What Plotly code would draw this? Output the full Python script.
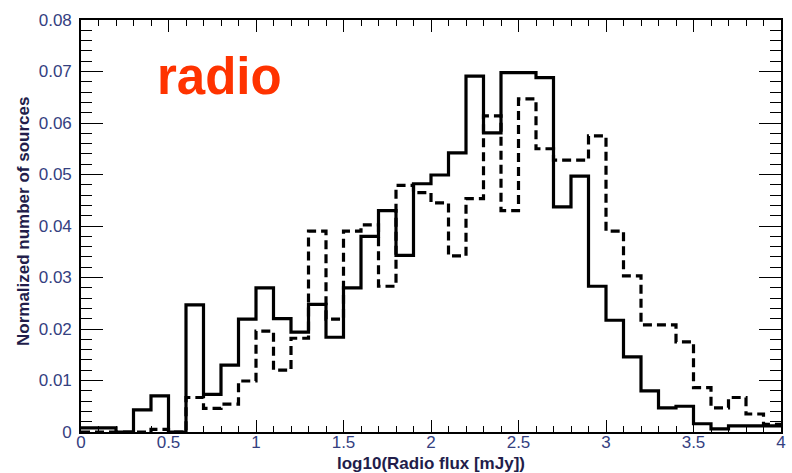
import numpy as np
import plotly.graph_objects as go

# Histogram bins: 40 bins of width 0.1 in log10(flux / mJy), from 0 to 4
bin_edges = np.round(np.arange(0.0, 4.0001, 0.1), 1)

# Normalized counts per bin (solid histogram)
solid_counts = [
    0.0008, 0.0008, 0.0000, 0.0043, 0.0070, 0.0000, 0.0247, 0.0073, 0.0130, 0.0219,
    0.0280, 0.0220, 0.0194, 0.0248, 0.0184, 0.0280, 0.0380, 0.0430, 0.0343, 0.0482,
    0.0499, 0.0542, 0.0691, 0.0581, 0.0698, 0.0698, 0.0688, 0.0437, 0.0497, 0.0283,
    0.0217, 0.0146, 0.0080, 0.0047, 0.0050, 0.0016, 0.0006, 0.0012, 0.0012, 0.0012,
]

# Normalized counts per bin (dashed histogram)
dashed_counts = [
    0.0000, 0.0000, 0.0000, 0.0000, 0.0005, 0.0000, 0.0067, 0.0046, 0.0054, 0.0099,
    0.0196, 0.0120, 0.0182, 0.0390, 0.0219, 0.0390, 0.0402, 0.0283, 0.0479, 0.0465,
    0.0445, 0.0342, 0.0453, 0.0614, 0.0430, 0.0647, 0.0550, 0.0528, 0.0528, 0.0575,
    0.0390, 0.0303, 0.0208, 0.0208, 0.0175, 0.0086, 0.0047, 0.0067, 0.0035, 0.0015,
]

x_ticks = [0, 0.5, 1, 1.5, 2, 2.5, 3, 3.5, 4]
y_ticks = [0, 0.01, 0.02, 0.03, 0.04, 0.05, 0.06, 0.07, 0.08]

LABEL_FONT = "Liberation Sans, Arial, sans-serif"
TICK_COLOR = "#34407f"
TITLE_COLOR = "#221d4a"


def step_trace(counts, dash):
    # hv step line over the bin edges; repeat the last count to close the final bin
    ys = list(counts) + [counts[-1]]
    return go.Scatter(
        x=bin_edges, y=ys, mode="lines", line_shape="hv",
        line=dict(color="black", width=3.2, dash=dash),
        hoverinfo="skip", showlegend=False,
    )


fig = go.Figure()
fig.add_trace(step_trace(dashed_counts, "9px,5px"))
fig.add_trace(step_trace(solid_counts, "solid"))

axis_common = dict(
    showline=True, linecolor="black", linewidth=1.6, mirror="ticks",
    ticks="inside", tickcolor="black", tickwidth=1.4,
    showgrid=False, zeroline=False,
    tickfont=dict(family=LABEL_FONT, size=17, color=TICK_COLOR),
)

fig.update_xaxes(
    range=[0, 4], tickvals=x_ticks, ticktext=[f"{v:g}" for v in x_ticks],
    ticklen=12, ticklabelstandoff=-6,
    minor=dict(dtick=0.1, tick0=0, ticks="inside", ticklen=6, tickwidth=1.2, tickcolor="black"),
    **axis_common,
)
fig.update_yaxes(
    range=[0, 0.08], tickvals=y_ticks, ticktext=[f"{v:g}" for v in y_ticks],
    ticklen=22, ticklabelstandoff=4,
    minor=dict(dtick=0.002, tick0=0, ticks="inside", ticklen=11, tickwidth=1.2, tickcolor="black"),
    **axis_common,
)

fig.add_annotation(
    text="log10(Radio flux [mJy])", xref="paper", yref="paper", x=0.5, y=0,
    yshift=-31, xanchor="center", yanchor="middle", showarrow=False,
    font=dict(family=LABEL_FONT, size=17, color=TITLE_COLOR, weight="bold"),
)
fig.add_annotation(
    text="Normalized number of sources", xref="paper", yref="paper", x=0, y=0.5,
    xshift=-58, yshift=4, textangle=-90, xanchor="center", yanchor="middle", showarrow=False,
    font=dict(family=LABEL_FONT, size=17, color=TITLE_COLOR, weight="bold"),
)
fig.add_annotation(
    text="radio", xref="x", yref="y", x=0.42, y=0.069,
    xanchor="left", yanchor="middle", showarrow=False,
    font=dict(family=LABEL_FONT, size=51, color="#ff3300", weight="bold"),
)

fig.update_layout(
    width=792, height=473,
    margin=dict(l=81, r=6, t=20, b=41),
    paper_bgcolor="white", plot_bgcolor="white",
)

fig.write_html("out.html")
